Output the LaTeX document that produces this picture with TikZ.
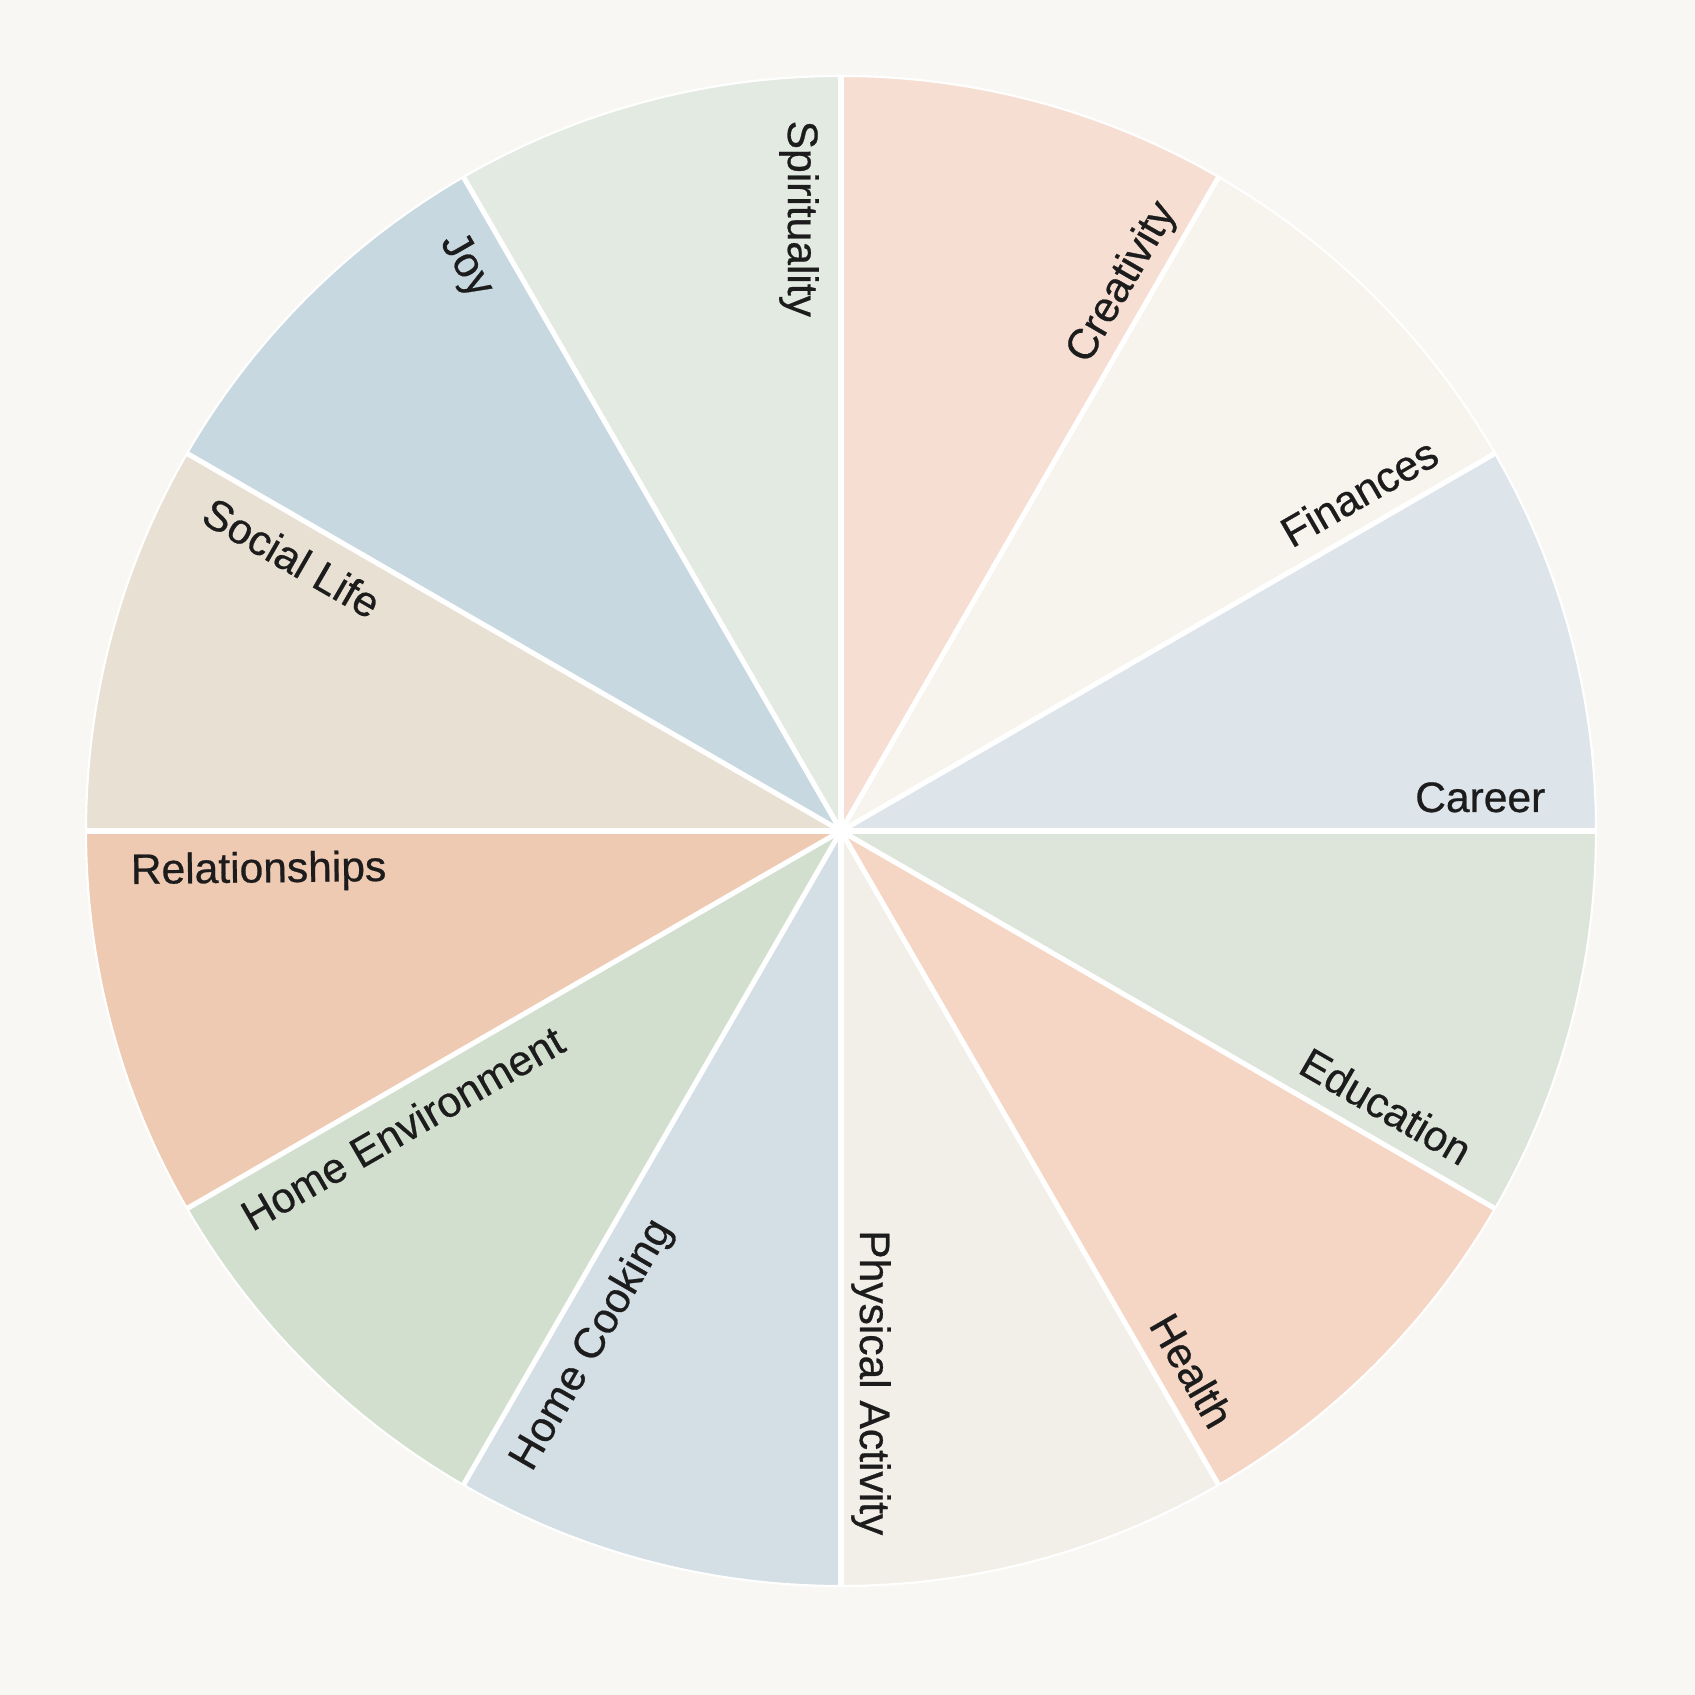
\documentclass[tikz,border=0pt]{standalone}
\usepackage{fontspec}
\setmainfont{Liberation Sans}
\newfontfamily\lblfont{Liberation Sans}[FakeBold=0.6]
\usetikzlibrary{calc}
\begin{document}
\begin{tikzpicture}[x=0.01cm,y=0.01cm]
\definecolor{bg}{HTML}{F8F7F3}
\definecolor{txt}{HTML}{1C1C1C}
\definecolor{cCareer}{HTML}{DDE4EA}
\definecolor{cFinances}{HTML}{F7F3ED}
\definecolor{cCreativity}{HTML}{F6DFD2}
\definecolor{cSpirituality}{HTML}{E3EAE2}
\definecolor{cJoy}{HTML}{C7D8E0}
\definecolor{cSocial}{HTML}{E8E1D3}
\definecolor{cRelationships}{HTML}{EFCAB2}
\definecolor{cHomeEnv}{HTML}{D2DFCE}
\definecolor{cCooking}{HTML}{D3DEE5}
\definecolor{cPhysical}{HTML}{F2EFE8}
\definecolor{cHealth}{HTML}{F5D5C3}
\definecolor{cEducation}{HTML}{DDE5DA}
\tikzset{
  lbl/.style={inner sep=0pt, text=txt, font=\lblfont\fontsize{12.1}{14}\selectfont,
              text height=0.72em, text depth=0.21em},
  sep/.style={white, line width=1.45pt},
}
\useasboundingbox (0,0) rectangle (1695,1695);
\fill[bg] (0,0) rectangle (1695,1695);
\coordinate (c) at (841,864);
\def\R{755}
\foreach \a/\col in {0/cCareer,30/cFinances,60/cCreativity,90/cSpirituality,
                     120/cJoy,150/cSocial,180/cRelationships,210/cHomeEnv,
                     240/cCooking,270/cPhysical,300/cHealth,330/cEducation}{
  \fill[\col] (c) -- ($(c)+(\a:\R)$) arc[start angle=\a, delta angle=30, radius=\R] -- cycle;
}
\draw[white, line width=0.6pt] (c) circle[radius=\R];
\foreach \a in {0,30,...,330}{
  \draw[sep] (c) -- ($(c)+(\a:\R)$);
}
% right-half labels
\foreach \a/\t/\n in {0/Career/career,30/Finances/finances,60/Creativity/creativity,
                      270/Physical Activity/physical,300/Health/health,330/Education/education}{
  \node[lbl, rotate=\a, anchor=base east] (\n) at ($(c)+(\a:705)+(\a+90:19)$) {\t};
}
% left-half labels
\foreach \a/\t/\n/\r in {90/Spirituality/spirituality/0,120/Joy/joy/0,150/Social Life/social/0,
                      180/Relationships/relationships/0.7,210/Home Environment/homeenv/0,240/Home Cooking/cooking/0}{
  \node[lbl, rotate=\a+180+\r, anchor=north west] (\n) at ($(c)+(\a:711)+(\a+90:27)$) {\t};
}
\end{tikzpicture}
\end{document}
